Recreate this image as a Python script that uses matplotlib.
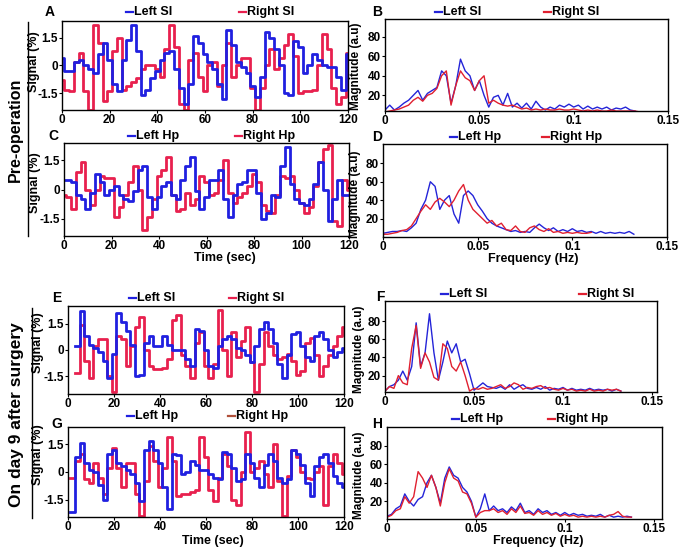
import numpy as np
import matplotlib
matplotlib.use('Agg')
import matplotlib.pyplot as plt
from matplotlib.lines import Line2D

plt.rcParams['font.family'] = ['Liberation Sans', 'DejaVu Sans']
plt.rcParams['font.weight'] = 'bold'
plt.rcParams['axes.unicode_minus'] = False

W, H = 683, 551

# time axis (sec) and frequency axis (Hz)
t = np.arange(0, 121, 2)
freq = np.arange(56) * 0.0025
nan = np.nan

# ---- time courses (signal %) ----
left_si_pre = [0.4, -0.3, -0.3, 0.2, 0.3, 0.0, -0.2, -0.4, 0.6, 1.2, 0.3, -1.0, -1.4, 0.3, 1.4, 2.2,
               0.8, -1.6, -1.3, -0.7, -0.3, 0.3, 0.7, 0.8, -0.2, -1.2, -2.1, -1.0, 1.6, 1.2, 0.6,
               0.2, -0.2, -1.0, -1.8, 1.9, 1.1, 0.2, -0.1, -0.4, -1.1, -1.7, -0.6, 1.8, 1.5, 0.9,
               0.0, -1.5, -1.6, 1.3, 1.0, -0.4, 0.0, 0.6, 0.3, 0.0, -0.1, -0.1, -0.6, -1.3, 0.6]
right_si_pre = [-0.8, -1.3, -1.4, 0.2, 0.7, -1.4, -2.4, 2.2, 1.2, -1.9, -1.4, 0.8, 1.5, -1.3, -1.1,
                -0.9, -0.7, -0.2, 0.0, 0.0, -0.2, -0.6, 0.9, 2.2, 1.0, -2.1, -2.4, 0.3, 0.7, -0.6,
                -1.4, 0.0, 0.2, -1.1, 0.0, 1.2, -0.6, 0.0, 0.4, 0.4, -1.2, -2.4, -1.2, 0.0, 0.9,
                -0.2, 0.4, 1.1, 1.7, 0.5, -1.5, -1.4, -1.4, -1.3, 0.0, 1.7, 0.9, -1.2, -2.1, -1.7, 0.7]
left_hp_pre = [0.5, 0.5, 0.4, -0.3, -0.5, -1.0, -0.2, 0.8, 0.4, -0.3, 0.0, 0.2, -0.3, -0.5, -0.6,
               -0.1, 1.0, 1.2, -0.4, -1.0, -0.4, 0.2, 0.4, -0.3, -0.5, 0.5, 1.2, 1.7, -0.1, -1.0,
               -0.4, 0.5, 0.5, 1.0, -0.5, -1.4, -0.3, 0.3, 0.4, 1.0, 1.0, -0.2, -1.5, -1.2, -0.3,
               -0.4, 1.2, 2.2, 0.3, -0.5, -0.7, -0.8, -0.5, 0.3, 1.4, 0.0, -1.6, -0.5, 0.5, -0.3, -0.3]
right_hp_pre = [-0.3, -0.4, -1.0, 0.9, 1.4, 0.0, -0.8, 0.0, 0.7, 0.6, 0.6, -1.4, -0.9, -0.3, 0.4,
                1.2, 0.0, -2.1, -1.4, -0.5, 0.7, 1.0, 1.7, -0.3, -1.1, -1.0, -0.2, -0.8, -0.5, 0.7,
                0.4, -0.3, -0.2, 0.5, 1.5, -0.2, -0.7, -0.4, -0.2, 0.2, 0.8, 0.4, -0.8, -1.1, -1.2,
                -0.3, 0.7, 0.6, 0.7, 0.0, -0.7, -1.2, -0.9, 0.2, 1.4, 2.1, 2.3, -1.6, -1.9, 0.5, 0.0]
left_si_post = [nan, nan, 0.2, 2.2, 0.8, 0.3, 0.1, -0.1, -0.6, -1.6, -0.2, 2.1, 1.6, 1.1, 0.3, -1.5,
                -1.4, 0.4, 0.8, 0.2, 0.2, 0.8, 0.3, 0.0, 0.0, 0.0, -0.5, -0.9, 1.2, 1.1, 0.0, -0.9,
                -1.0, 0.2, 0.6, 0.8, 0.6, 0.1, 0.0, -0.3, -0.7, 0.2, 1.2, 1.6, 1.2, 0.4, -0.8, -1.6,
                -0.3, 0.9, 1.0, 0.2, -0.4, -0.6, 0.8, 1.0, 0.6, 0.0, -0.4, -0.1, 0.1]
right_si_post = [nan, nan, -1.3, 1.4, -0.6, -1.6, 0.2, 0.6, 0.6, -1.5, -2.4, 0.8, 0.6, -0.9, 0.2,
                 1.3, 1.9, 0.0, -0.9, -1.1, -1.1, -1.0, -0.5, 1.7, 2.0, -0.3, -0.9, -1.6, 0.4, 1.0,
                 -0.9, -1.6, -0.8, 2.3, 0.0, -1.5, 1.0, -0.4, 0.5, 1.3, -0.7, -2.4, -0.8, 1.0, 0.2,
                 -0.3, -0.5, -0.4, -0.2, -0.6, -1.4, -1.2, 0.4, 0.7, -0.3, -1.5, -0.9, -0.3, 0.2, 0.8, 1.3]
left_hp_post = [nan, -2.2, 0.8, 1.6, 0.5, 0.1, 0.0, -0.7, -1.5, 1.0, 1.2, 0.5, 0.3, 0.1, -0.1, -0.6,
                -1.6, 1.2, 1.7, 1.2, 0.5, -0.8, -2.0, 1.0, 0.9, -0.1, 0.0, 0.6, 0.4, 0.1, 0.1, -0.1,
                -0.3, -0.4, 1.1, 1.0, 0.2, -0.5, -0.4, 1.0, 0.5, -0.3, -0.8, 0.4, 1.0, 0.6, -0.3,
                -0.6, -0.4, 1.2, 1.0, 0.4, -0.6, -1.3, 0.3, 0.8, 1.0, 0.5, -0.2, -0.6, -0.8]
right_hp_post = [nan, -0.3, 0.6, 1.0, -0.4, -0.6, 0.5, -0.3, -1.2, 0.2, 1.3, 0.2, -0.8, 0.5, 0.5,
                 -1.2, -2.4, -0.5, 1.4, 0.6, -0.8, 0.2, 1.9, 0.6, -1.3, -1.2, -1.2, -1.1, -1.0, 1.9,
                 0.8, -1.0, -1.6, -0.3, 1.0, 0.3, -1.5, -1.8, 0.0, 2.2, 0.0, 0.2, 0.6, -0.1, -0.8,
                 1.5, -0.5, -2.4, -0.2, 1.2, 0.8, 0.0, -0.3, -0.4, 0.0, 0.3, -1.8, 0.3, 1.0, 0.5, -0.1]

# ---- spectra (magnitude a.u) ----
mag_left_si_pre = [5, 10, 5, 8, 12, 15, 20, 25, 15, 22, 25, 28, 45, 40, 12, 30, 57, 45, 40, 25, 35,
                   20, 8, 18, 20, 10, 22, 8, 12, 7, 12, 6, 14, 8, 5, 8, 6, 10, 8, 11, 8, 10, 6, 9,
                   6, 8, 6, 8, 5, 7, 6, 8, 5, 4, nan, nan]
mag_right_si_pre = [3, 4, 5, 6, 8, 10, 15, 18, 14, 20, 22, 27, 40, 45, 10, 30, 45, 38, 35, 25, 35,
                    40, 12, 15, 12, 10, 9, 10, 8, 6, 7, 5, 6, 5, 6, 5, 5, 6, 5, 5, 6, 5, 4, 5, 4,
                    5, 4, 4, 5, 4, 4, 4, 4, 4, 3, nan]
mag_left_hp_pre = [4, 5, 6, 6, 7, 6, 10, 15, 30, 40, 60, 55, 30, 40, 45, 25, 15, 45, 50, 45, 35,
                   28, 20, 15, 12, 10, 8, 6, 7, 5, 6, 5, 10, 14, 10, 7, 10, 6, 8, 6, 9, 6, 7, 5,
                   6, 4, 6, 4, 5, 4, 5, 4, 6, 3, nan, nan]
mag_right_hp_pre = [3, 3, 4, 5, 7, 8, 12, 20, 28, 35, 30, 38, 42, 38, 33, 40, 50, 57, 40, 30, 25,
                    20, 15, 18, 12, 15, 8, 7, 12, 6, 5, 10, 12, 8, 6, 9, 5, 6, 4, 5, 4, 5, 4, 4,
                    5, nan, nan, nan, nan, nan, nan, nan, nan, nan, nan, nan]
mag_left_si_post = [3, 8, 10, 15, 25, 15, 30, 78, 30, 45, 88, 45, 15, 35, 58, 45, 55, 35, 38, 22,
                    4, 8, 12, 8, 7, 6, 8, 5, 10, 5, 8, 10, 6, 5, 7, 5, 8, 4, 6, 5, 7, 4, 6, 4, 5,
                    4, 6, 4, 5, 4, 5, 3, 5, 3, nan, nan]
mag_right_si_post = [3, 8, 6, 20, 12, 10, 50, 75, 28, 45, 35, 18, 15, 55, 50, 30, 25, 35, 20, 3,
                     6, 5, 7, 5, 6, 8, 10, 6, 8, 12, 10, 5, 7, 6, 8, 9, 6, 7, 5, 4, 6, 4, 5, 3, 4,
                     3, 5, 3, 4, 3, 5, 4, 5, 3, nan, nan]
mag_left_hp_post = [4, 6, 12, 15, 28, 20, 15, 22, 25, 40, 48, 35, 18, 45, 57, 48, 45, 35, 30, 20,
                    3, 12, 28, 10, 15, 10, 12, 8, 14, 10, 18, 8, 10, 6, 12, 8, 10, 6, 8, 5, 8, 5,
                    7, 5, 6, 4, 5, 4, 6, 3, 5, 3, 4, 3, 4, 3]
mag_right_hp_post = [3, 5, 10, 12, 25, 18, 25, 52, 45, 35, 48, 35, 15, 40, 55, 45, 42, 30, 28, 18,
                     3, 8, 10, 10, 12, 8, 10, 6, 12, 8, 15, 7, 8, 5, 10, 6, 8, 5, 7, 4, 6, 4, 5, 3,
                     4, 3, 4, 3, 4, 3, 5, 6, 9, 4, 3, 3]

BLUE_T, RED_T = '#2020e0', '#e8204e'
BLUE_F, RED_F = '#2424d8', '#e02030'

fig = plt.figure(figsize=(W / 100, H / 100), dpi=100)


def fx(x):
    return x / W


def fy(y):
    return 1 - y / H


def make_axes(l, r, top, bot):
    ax = fig.add_axes([fx(l), fy(bot), (r - l) / W, (bot - top) / H])
    for s in ax.spines.values():
        s.set_linewidth(1.0)
    ax.tick_params(labelsize=8.5, pad=1, length=2, width=0.8)
    return ax


def legend_pair(xb, xr, y, lab_b, lab_r, cb, cr):
    for x, lab, c in [(xb, lab_b, cb), (xr, lab_r, cr)]:
        fig.add_artist(Line2D([fx(x), fx(x + 7)], [fy(y), fy(y)], color=c, lw=1.6))
        fig.text(fx(x + 8), fy(y), lab, ha='left', va='center', fontsize=9, fontweight='bold')


def label_pos(ax, box, lx, ly, xl=None):
    l, r, top, bot = box
    ax.yaxis.set_label_coords((lx - l) / (r - l), (bot - ly) / (bot - top))
    if xl is not None:
        ax.xaxis.set_label_coords((xl[0] - l) / (r - l), (bot - xl[1]) / (bot - top))


# signal panels: box, blue, red, ylim, letter pos, ylabel pos, xlabel pos
sig_panels = [
    ((62, 348, 21, 110), left_si_pre, right_si_pre, 2.4, 'A', (50, 12), (34, 62), None),
    ((64, 349, 143, 236), left_hp_pre, right_hp_pre, 2.4, 'C', (53, 136), (35, 183), (225, 258)),
    ((68, 344, 306, 394), left_si_post, right_si_post, 2.5, 'E', (57, 298), (38, 343), None),
    ((68, 344, 427, 517), left_hp_post, right_hp_post, 2.45, 'G', (57, 424), (38, 455), (213, 541)),
]
for box, yb, yr, lim, letter, lp, yl, xl in sig_panels:
    ax = make_axes(*box)
    ax.plot(t, yr, color=RED_T, lw=2.0, drawstyle='steps-mid')
    ax.plot(t, yb, color=BLUE_T, lw=2.0, drawstyle='steps-mid')
    ax.set_xlim(0, 120)
    ax.set_ylim(-lim, lim)
    ax.set_xticks([0, 20, 40, 60, 80, 100, 120])
    ax.set_yticks([-1.5, 0, 1.5])
    ax.set_yticklabels(['-1.5', '0', '1.5'])
    ax.set_ylabel('Signal (%)', fontsize=9, fontweight='bold', va='center')
    if xl is not None:
        ax.set_xlabel('Time (sec)', fontsize=9, fontweight='bold', va='center')
    label_pos(ax, box, yl[0], yl[1], xl)
    fig.text(fx(lp[0]), fy(lp[1]), letter, ha='center', va='center', fontsize=10, fontweight='bold')

# spectrum panels
spec_panels = [
    ((385, 668, 19, 111), mag_left_si_pre, mag_right_si_pre, (4, 98), 0.15, 'B', (377, 12), (356, 66), None),
    ((383, 667, 144, 237), mag_left_hp_pre, mag_right_hp_pre, (0, 101), 0.15, 'D', (377, 137), (355, 194), (533, 259)),
    ((385, 657, 301, 392), mag_left_si_post, mag_right_si_post, (2, 102), 0.1528, 'F', (380, 297), (359, 349), None),
    ((387, 662, 427, 519), mag_left_hp_post, mag_right_hp_post, (1, 100), 0.1547, 'H', (377, 424), (359, 475), (538, 541)),
]
for box, yb, yr, ylim, xmax, letter, lp, yl, xl in spec_panels:
    ax = make_axes(*box)
    ax.plot(freq, yb, color=BLUE_F, lw=1.0)
    ax.plot(freq, yr, color=RED_F, lw=1.0)
    ax.set_xlim(0, xmax)
    ax.set_ylim(*ylim)
    ax.set_xticks([0, 0.05, 0.1, 0.15])
    ax.set_xticklabels(['0', '0.05', '0.1', '0.15'])
    ax.set_yticks([20, 40, 60, 80])
    ax.set_ylabel('Magnitude (a.u)', fontsize=8.5, fontweight='bold', va='center')
    if xl is not None:
        ax.set_xlabel('Frequency (Hz)', fontsize=9, fontweight='bold', va='center')
    label_pos(ax, box, yl[0], yl[1], xl)
    fig.text(fx(lp[0]), fy(lp[1]), letter, ha='center', va='center', fontsize=10, fontweight='bold')

# legends above each panel
legend_pair(126, 239, 12, 'Left SI', 'Right SI', BLUE_T, RED_T)
legend_pair(435, 544, 12, 'Left SI', 'Right SI', BLUE_F, RED_F)
legend_pair(128, 235, 136, 'Left Hp', 'Right Hp', BLUE_T, RED_T)
legend_pair(450, 542, 137, 'Left Hp', 'Right Hp', BLUE_F, RED_F)
legend_pair(129, 229, 298, 'Left SI', 'Right SI', BLUE_T, RED_T)
legend_pair(441, 579, 294, 'Left SI', 'Right SI', BLUE_F, RED_F)
legend_pair(127, 228, 416, 'Left Hp', 'Right Hp', BLUE_T, '#b0503a')
legend_pair(452, 548, 419, 'Left Hp', 'Right Hp', BLUE_F, RED_F)

# row labels
fig.text(fx(15), fy(130), 'Pre-operation', rotation=90, ha='center', va='center',
         fontsize=11.5, fontweight='bold')
fig.add_artist(Line2D([fx(28), fx(28)], [fy(22), fy(236)], color='k', lw=1.0))
fig.text(fx(17), fy(415), 'On day 9 after surgery', rotation=90, ha='center', va='center',
         fontsize=12.5, fontweight='bold')
fig.add_artist(Line2D([fx(32), fx(32)], [fy(308), fy(518)], color='k', lw=1.0))

fig.savefig('out.png', dpi=100)
